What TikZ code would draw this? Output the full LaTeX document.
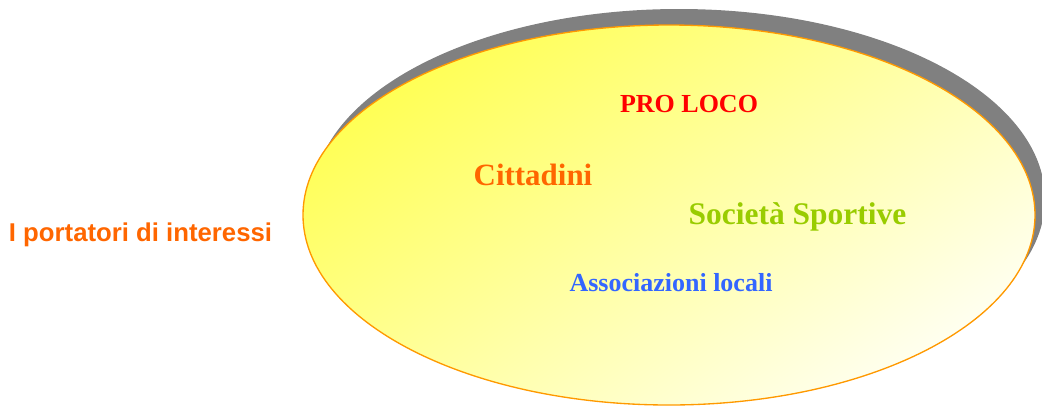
\documentclass[tikz,border=0pt]{standalone}
\usepackage{fontspec}
\setmainfont{Liberation Serif}
\newfontfamily\labelsans{Liberation Sans}
\definecolor{shadowgray}{HTML}{808080}
\definecolor{rimorange}{HTML}{FF9900}
\definecolor{fillstrong}{HTML}{FFFF55}
\definecolor{fillpale}{HTML}{FFFFF0}
\definecolor{txtred}{HTML}{FF0000}
\definecolor{txtorange}{HTML}{FF6600}
\definecolor{txtgreen}{HTML}{99CC00}
\definecolor{txtblue}{HTML}{3366FF}
\tikzset{
  word/.style={anchor=base, inner sep=0pt, font=\bfseries},
}
\begin{document}
\begin{tikzpicture}[x=0.75pt, y=-0.75pt]
\useasboundingbox (0,0) rectangle (1042,405);
\begin{scope}
\clip (0,0) rectangle (1042,405);
% shadow
\fill[shadowgray] (679,199) ellipse [x radius=366, y radius=190];
% main ellipse
\shade[left color=fillstrong, right color=fillpale, shading angle=35]
  (669,215) ellipse [x radius=366, y radius=190];
\draw[rimorange, line width=1pt] (669,215) ellipse [x radius=366, y radius=190];
\end{scope}
\node[word, text=txtred, font=\bfseries\fontsize{19.5}{22}\selectfont] (proloco) at (689,112.5) {PRO LOCO};
\node[word, text=txtorange, font=\bfseries\fontsize{23.2}{26}\selectfont] (cittadini) at (533,185) {Cittadini};
\node[word, text=txtgreen, font=\bfseries\fontsize{23.6}{26}\selectfont] (sportive) at (797.5,224) {Società Sportive};
\node[word, text=txtblue, font=\bfseries\fontsize{19.5}{22}\selectfont] (assoc) at (671,291.5) {Associazioni locali};
\node[word, text=txtorange, font=\labelsans\bfseries\fontsize{19.3}{22}\selectfont] (portatori) at (140.5,241) {I portatori di interessi};
\end{tikzpicture}
\end{document}
